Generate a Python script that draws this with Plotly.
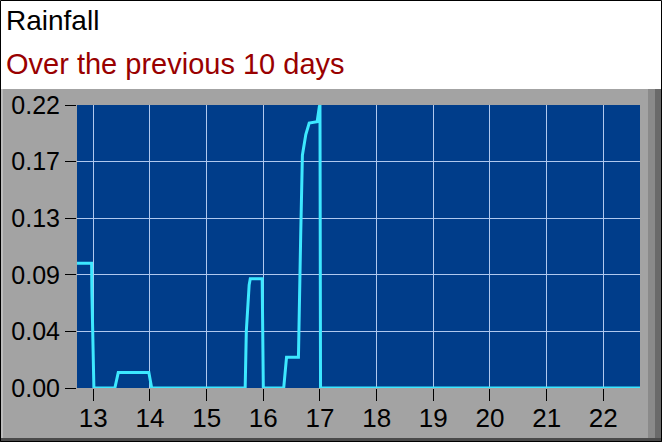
import plotly.graph_objects as go

# rainfall trace, x in day-of-month, y in inches
days = [12.70, 12.97, 12.975, 12.995, 13.01, 13.38, 13.44, 13.98, 14.03,
        15.68, 15.70, 15.75, 15.77, 15.98, 15.99, 16.00,
        16.36, 16.41, 16.62, 16.625, 16.64, 16.66, 16.69, 16.72, 16.75,
        16.81, 16.95, 16.99, 17.00, 17.005, 17.01, 22.70]
rain = [0.097, 0.097, 0.074, 0.024, 0.0, 0.0, 0.012, 0.012, 0.0,
        0.0, 0.044, 0.080, 0.085, 0.085, 0.020, 0.0,
        0.0, 0.024, 0.024, 0.041, 0.088, 0.119, 0.181, 0.189, 0.197,
        0.206, 0.207, 0.219, 0.220, 0.110, 0.0, 0.0]

x_ticks = [13, 14, 15, 16, 17, 18, 19, 20, 21, 22]
y_ticks = [0.0, 0.044, 0.088, 0.132, 0.176, 0.22]
y_labels = ["0.00", "0.04", "0.09", "0.13", "0.17", "0.22"]

W, H = 662, 442
L, R, T, B = 77, 640, 105, 388   # plot area in pixels


def px(x):
    return (x - L) / (R - L)


def py(y):
    return (B - y) / (B - T)


GREY = "#a3a3a3"
BLUE = "#003d8a"

fig = go.Figure()
fig.add_trace(go.Scatter(x=days, y=rain, mode="lines",
                         line=dict(color="#3de8ff", width=3),
                         hoverinfo="skip", showlegend=False))

shapes = [
    # white header
    dict(type="rect", xref="paper", yref="paper", x0=px(-5), x1=px(W + 5),
         y0=py(89), y1=py(-5), fillcolor="white", line_width=0, layer="below"),
    # left bevel
    dict(type="rect", xref="paper", yref="paper", x0=px(0), x1=px(3),
         y0=py(439), y1=py(89), fillcolor="#bdbdbd", line_width=0, layer="below"),
    # right bevel
    dict(type="rect", xref="paper", yref="paper", x0=px(648), x1=px(655),
         y0=py(439), y1=py(89), fillcolor="#8a8a8a", line_width=0, layer="below"),
    dict(type="rect", xref="paper", yref="paper", x0=px(655), x1=px(W + 5),
         y0=py(439), y1=py(89), fillcolor="#6a6a6a", line_width=0, layer="below"),
    # bottom edge
    dict(type="rect", xref="paper", yref="paper", x0=px(-5), x1=px(W + 5),
         y0=py(H + 5), y1=py(438), fillcolor="#4a4a4a", line_width=0, layer="below"),
    # outer border
    dict(type="rect", xref="paper", yref="paper", x0=px(0.5), x1=px(W - 0.5),
         y0=py(H - 0.5), y1=py(0.5), line=dict(color="black", width=1),
         fillcolor="rgba(0,0,0,0)", layer="above"),
]

fig.update_layout(
    width=W, height=H,
    margin=dict(l=L, r=W - R, t=T, b=H - B, pad=0, autoexpand=False),
    paper_bgcolor=GREY, plot_bgcolor=BLUE,
    shapes=shapes,
    font=dict(family="Liberation Sans, Arial, sans-serif", color="black"),
    annotations=[
        dict(text="Rainfall", xref="paper", yref="paper", x=px(4), y=py(20),
             xanchor="left", yanchor="middle", showarrow=False,
             font=dict(size=28, color="black")),
        dict(text="Over the previous 10 days", xref="paper", yref="paper",
             x=px(4), y=py(64), xanchor="left", yanchor="middle", showarrow=False,
             font=dict(size=29, color="#990000")),
    ],
)

fig.update_xaxes(range=[12.712, 22.648], tickvals=x_ticks, showgrid=True,
                 gridcolor="#b0c8ee", gridwidth=1, zeroline=False, automargin=False,
                 ticks="outside", ticklen=12, tickcolor="black",
                 ticklabelstandoff=-5,
                 tickfont=dict(size=26, color="black"), showline=False, fixedrange=True)
fig.update_yaxes(range=[0, 0.22], tickvals=y_ticks, ticktext=y_labels,
                 showgrid=True, gridcolor="#b0c8ee", gridwidth=1, zeroline=False,
                 automargin=False,
                 ticks="outside", ticklen=11, tickcolor="black",
                 tickfont=dict(size=25, color="black"), showline=False, fixedrange=True)

# the page body has a default 8px margin; drop it so the figure sits at 0,0
fig.write_html("out.html", config={"displayModeBar": False},
               post_script="document.body.style.margin='0';"
                           "document.body.style.overflow='hidden';")
